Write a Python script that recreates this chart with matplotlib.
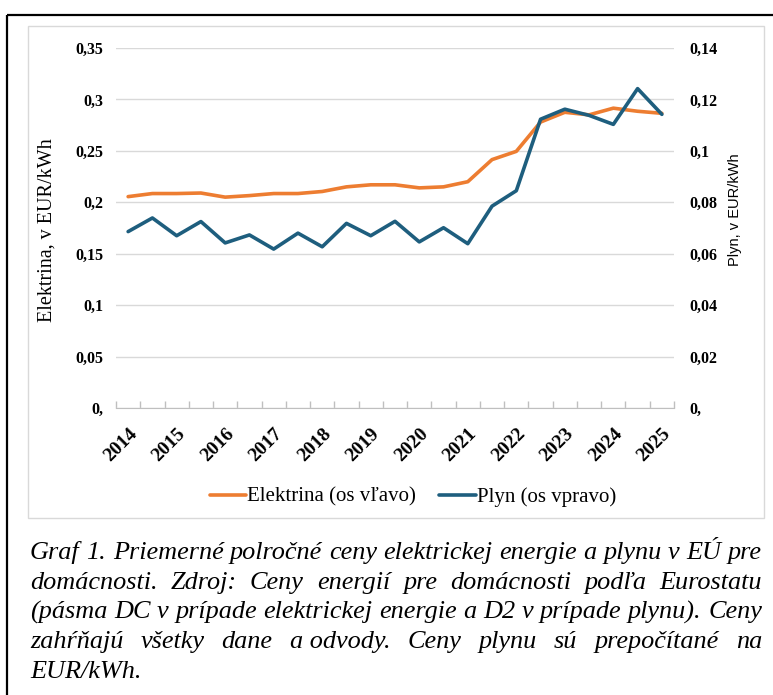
import matplotlib
matplotlib.use('Agg')
import matplotlib.pyplot as plt
import matplotlib.patches as patches
import numpy as np

# polrocne hodnoty 2014 S1 .. 2025 S1
years = ['2014', '2015', '2016', '2017', '2018', '2019',
         '2020', '2021', '2022', '2023', '2024', '2025']
elektrina = [0.2055, 0.2085, 0.2085, 0.209, 0.205, 0.2065, 0.2085, 0.2085,
             0.2105, 0.215, 0.217, 0.217, 0.214, 0.215, 0.220, 0.2415,
             0.2495, 0.278, 0.2875, 0.285, 0.2915, 0.2885, 0.2865]
plyn = [0.0686, 0.0739, 0.067, 0.0725, 0.0642, 0.0673, 0.0618, 0.068,
        0.0627, 0.0718, 0.067, 0.0726, 0.0646, 0.0701, 0.0639, 0.0785,
        0.0845, 0.1123, 0.1162, 0.1138, 0.1103, 0.1242, 0.1142]
left_ticks = [0, 0.05, 0.1, 0.15, 0.2, 0.25, 0.3, 0.35]
right_ticks = [0, 0.02, 0.04, 0.06, 0.08, 0.1, 0.12, 0.14]
caption = [
    'Graf 1. Priemerné polročné ceny elektrickej energie a plynu v EÚ pre',
    'domácnosti. Zdroj: Ceny energií pre domácnosti podľa Eurostatu',
    '(pásma DC v prípade elektrickej energie a D2 v prípade plynu). Ceny',
    'zahŕňajú všetky dane a\u00a0odvody. Ceny plynu sú prepočítané na',
    'EUR/kWh.',
]

ORANGE = '#ED7D31'
BLUE = '#1E5E7E'
SERIF = 'Liberation Serif'

W, H = 773, 695
fig = plt.figure(figsize=(W / 100, H / 100), dpi=100)


def fx(px):
    return px / W


def fy(py):
    return 1 - py / H


def fmt(v):
    if v == 0:
        return '0,'
    return ('%g' % v).replace('.', ',')


# ramiky
fig.add_artist(patches.Rectangle((fx(7), fy(15)), 1.2, -1.2, transform=fig.transFigure,
                                 fill=False, edgecolor='black', lw=1.6))
fig.add_artist(patches.Rectangle((fx(28), fy(518)), fx(764) - fx(28), fy(26) - fy(518),
                                 transform=fig.transFigure, fill=False,
                                 edgecolor='#d9d9d9', lw=1))

ax = fig.add_axes([fx(116), fy(408), fx(674) - fx(116), fy(48) - fy(408)])
ax2 = ax.twinx()

x = np.arange(len(elektrina))
ax.plot(x, elektrina, color=ORANGE, lw=2.6, solid_capstyle='round', label='Elektrina (os vľavo)')
ax2.plot(x, plyn, color=BLUE, lw=2.6, solid_capstyle='round', label='Plyn (os vpravo)')

ax.set_xlim(-0.5, len(elektrina) - 0.5)
ax.set_ylim(0, 0.35)
ax2.set_ylim(0, 0.14)

ax.set_yticks(left_ticks)
ax.set_yticklabels([fmt(v) for v in left_ticks], fontfamily=SERIF, fontweight='bold', fontsize=11.5)
ax2.set_yticks(right_ticks)
ax2.set_yticklabels([fmt(v) for v in right_ticks], fontfamily=SERIF, fontweight='bold', fontsize=11.5)
ax.tick_params(axis='y', length=0, pad=9)
ax2.tick_params(axis='y', length=0, pad=11)

ax.set_xticks(x[::2])
ax.set_xticklabels(years, rotation=45, ha='right', va='top', rotation_mode='anchor',
                   fontfamily=SERIF, fontweight='bold', fontsize=14)
ax.set_xticks(np.arange(-0.5, len(elektrina)), minor=True)
ax.tick_params(axis='x', which='major', length=0, pad=12)
ax.tick_params(axis='x', which='minor', direction='in', length=5, color='#bfbfbf', width=1)

ax.yaxis.grid(True, color='#d9d9d9', lw=1)
ax.set_axisbelow(True)
for s in ['top', 'left', 'right']:
    ax.spines[s].set_visible(False)
ax.spines['bottom'].set_color('#bfbfbf')
for s in ax2.spines.values():
    s.set_visible(False)

fig.text(fx(47), fy(230), 'Elektrina, v EUR/kWh', rotation=90, ha='center', va='center',
         fontfamily=SERIF, fontsize=14.5)
fig.text(fx(735), fy(210), 'Plyn, v EUR/kWh', rotation=90, ha='center', va='center',
         fontfamily='Liberation Sans', fontsize=10.5)

h1, l1 = ax.get_legend_handles_labels()
h2, l2 = ax2.get_legend_handles_labels()
fig.legend(h1 + h2, l1 + l2, loc='center', bbox_to_anchor=(fx(413), fy(497)), ncol=2,
           frameon=False, prop={'family': SERIF, 'size': 15}, handlelength=1.75,
           handletextpad=0.05, columnspacing=1.1)

# popis grafu - zarovnany do bloku
renderer = fig.canvas.get_renderer()
left_px, right_px = 30, 762
target = right_px - left_px


def width(s, size):
    t = fig.text(0, 0, s, fontfamily=SERIF, style='italic', fontsize=size)
    w = t.get_window_extent(renderer).width
    t.remove()
    return w


size = 18
size = min(size * target / width(line.replace('\u00a0', ' '), size) for line in caption[:4])
space = width('x x', size) - width('xx', size)
line_y = [553, 583, 612, 642, 672]
for i, line in enumerate(caption):
    words = [w.replace('\u00a0', ' ') for w in line.split(' ')]
    ws = [width(w, size) for w in words]
    if i < len(caption) - 1 and len(words) > 1:
        gap = (target - sum(ws)) / (len(words) - 1)
    else:
        gap = space
    xp = left_px
    for w, wd in zip(words, ws):
        fig.text(fx(xp), fy(line_y[i]), w, fontfamily=SERIF, style='italic',
                 fontsize=size, va='center')
        xp += wd + gap

fig.savefig('out.png', dpi=100)
